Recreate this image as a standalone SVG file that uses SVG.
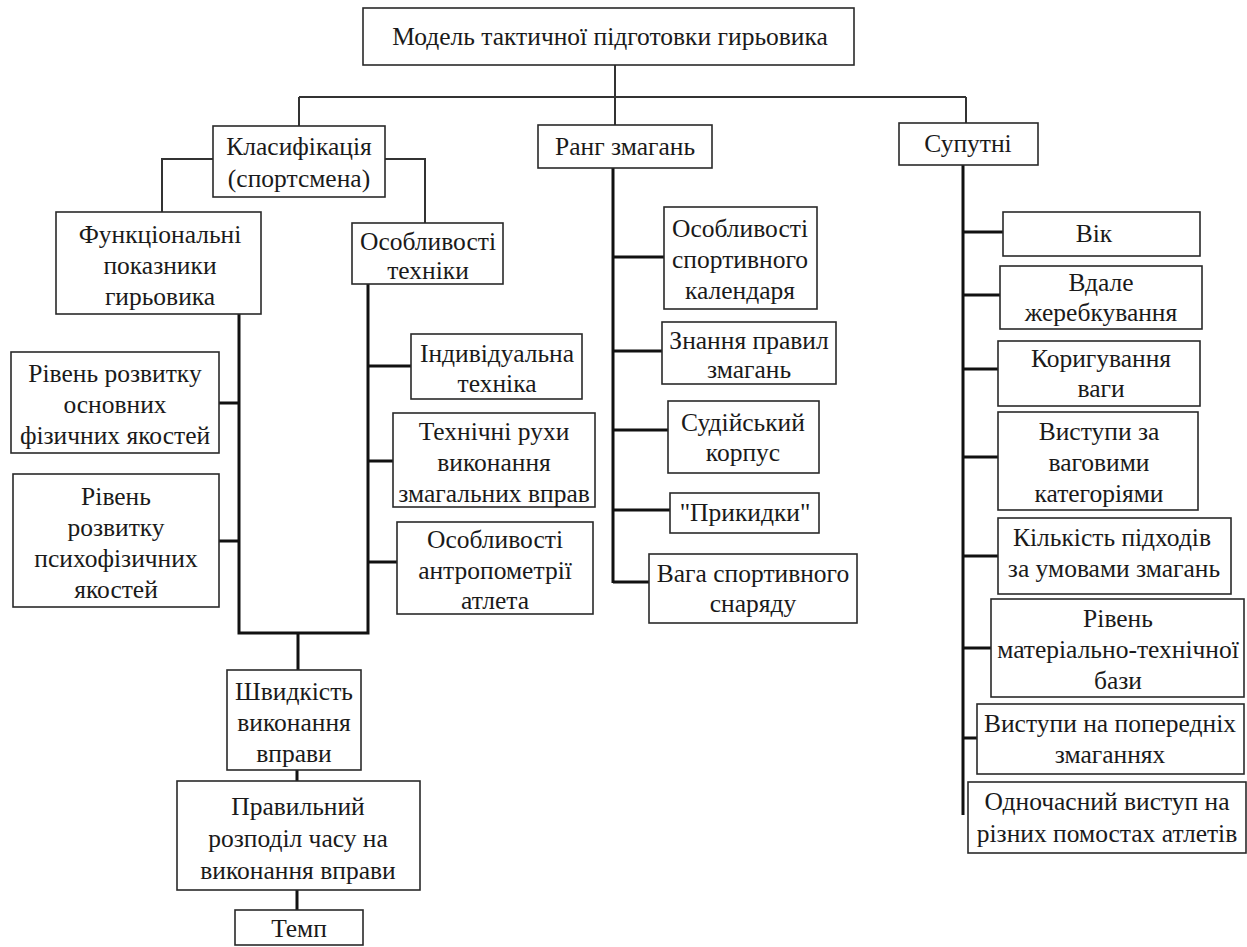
<svg xmlns="http://www.w3.org/2000/svg" width="1247" height="947" viewBox="0 0 1247 947">
<style>
.bg{fill:#ffffff}
.box{fill:#ffffff;stroke:#2a2a2a;stroke-width:1.6}
.t{font-family:'Liberation Serif','Times New Roman',serif;font-size:25.5px;fill:#1a1a1a;text-anchor:middle}
.thin{fill:none;stroke:#333333;stroke-width:2}
.thick{fill:none;stroke:#111111;stroke-width:3}
</style>
<rect class="bg" x="0" y="0" width="1247" height="947"/>
<g id="connectors">
<path class="thin" d="M615,65 V97 M299,97 H966 M299,97 V126 M615,97 V126 M966,97 V124"/>
<path class="thin" d="M213,159 H162 V212 M385,159 H425 V223"/>
<path class="thick" d="M613,168 V583 M613,257 H664 M613,351 H662 M613,430 H668 M613,510 H670 M613,582 H649"/>
<path class="thick" d="M963,164 V815 M963,232 H1003 M963,295 H1000 M963,369 H998 M963,457 H998 M963,556 H998 M963,648 H991 M963,738 H977"/>
<path class="thick" d="M239,314 V633 H368 V284 M219,403 H239 M219,541 H239 M368,366 H411 M368,461 H393 M368,562 H397"/>
<path class="thick" d="M298,633 V670 M297,770 V781 M297,890 V910"/>
</g>
<g id="title"><rect class="box" x="363" y="8" width="491" height="57"/><text class="t" x="610" y="45">Модель тактичної підготовки гирьовика</text></g>
<g id="klas"><rect class="box" x="213" y="126" width="172" height="71"/><text class="t" x="299" y="155">Класифікація</text><text class="t" x="299" y="187">(спортсмена)</text></g>
<g id="rang"><rect class="box" x="538" y="125" width="174" height="43"/><text class="t" x="625" y="155">Ранг змагань</text></g>
<g id="suputni"><rect class="box" x="899" y="123" width="139" height="42"/><text class="t" x="968" y="152">Супутні</text></g>
<g id="func"><rect class="box" x="56" y="212" width="205" height="102"/><text class="t" x="160" y="243">Функціональні</text><text class="t" x="160" y="274">показники</text><text class="t" x="160" y="305">гирьовика</text></g>
<g id="osobl-tekhn"><rect class="box" x="352" y="223" width="151" height="61"/><text class="t" x="428" y="250">Особливості</text><text class="t" x="428" y="279">техніки</text></g>
<g id="riven1"><rect class="box" x="11" y="352" width="208" height="101"/><text class="t" x="115" y="382">Рівень розвитку</text><text class="t" x="115" y="413">основних</text><text class="t" x="115" y="444">фізичних якостей</text></g>
<g id="riven2"><rect class="box" x="13" y="474" width="206" height="133"/><text class="t" x="116" y="505">Рівень</text><text class="t" x="116" y="536">розвитку</text><text class="t" x="116" y="567">психофізичних</text><text class="t" x="116" y="598">якостей</text></g>
<g id="indyv"><rect class="box" x="411" y="334" width="171" height="65"/><text class="t" x="497" y="362">Індивідуальна</text><text class="t" x="497" y="392">техніка</text></g>
<g id="tekhn-rukhy"><rect class="box" x="393" y="413" width="202" height="94"/><text class="t" x="494" y="440">Технічні рухи</text><text class="t" x="494" y="471">виконання</text><text class="t" x="494" y="502">змагальних вправ</text></g>
<g id="antrop"><rect class="box" x="397" y="522" width="196" height="92"/><text class="t" x="495" y="548">Особливості</text><text class="t" x="495" y="579">антропометрії</text><text class="t" x="495" y="609">атлета</text></g>
<g id="shvyd"><rect class="box" x="227" y="670" width="134" height="100"/><text class="t" x="294" y="700">Швидкість</text><text class="t" x="294" y="731">виконання</text><text class="t" x="294" y="762">вправи</text></g>
<g id="pravyl"><rect class="box" x="177" y="781" width="243" height="109"/><text class="t" x="298" y="815">Правильний</text><text class="t" x="298" y="847">розподіл часу на</text><text class="t" x="298" y="879">виконання вправи</text></g>
<g id="temp"><rect class="box" x="235" y="910" width="128" height="35"/><text class="t" x="299" y="937">Темп</text></g>
<g id="kalend"><rect class="box" x="664" y="207" width="153" height="102"/><text class="t" x="740" y="237">Особливості</text><text class="t" x="740" y="268">спортивного</text><text class="t" x="740" y="299">календаря</text></g>
<g id="znannya"><rect class="box" x="662" y="322" width="174" height="62"/><text class="t" x="749" y="349">Знання правил</text><text class="t" x="749" y="378">змагань</text></g>
<g id="suddi"><rect class="box" x="668" y="401" width="151" height="72"/><text class="t" x="743" y="431">Судійський</text><text class="t" x="743" y="461">корпус</text></g>
<g id="prykydky"><rect class="box" x="670" y="493" width="149" height="40"/><text class="t" x="745" y="521">"Прикидки"</text></g>
<g id="vaga"><rect class="box" x="649" y="554" width="208" height="69"/><text class="t" x="753" y="582">Вага спортивного</text><text class="t" x="753" y="612">снаряду</text></g>
<g id="vik"><rect class="box" x="1003" y="212" width="197" height="44"/><text class="t" x="1094" y="242">Вік</text></g>
<g id="vdale"><rect class="box" x="1000" y="266" width="202" height="63"/><text class="t" x="1101" y="291">Вдале</text><text class="t" x="1101" y="321">жеребкування</text></g>
<g id="koryg"><rect class="box" x="998" y="341" width="202" height="65"/><text class="t" x="1101" y="367">Коригування</text><text class="t" x="1101" y="397">ваги</text></g>
<g id="vystupy-vag"><rect class="box" x="998" y="412" width="200" height="98"/><text class="t" x="1099" y="440">Виступи за</text><text class="t" x="1099" y="471">ваговими</text><text class="t" x="1099" y="502">категоріями</text></g>
<g id="kilkist"><rect class="box" x="998" y="518" width="233" height="76"/><text class="t" x="1112" y="546">Кількість підходів</text><text class="t" x="1114" y="577">за умовами змагань</text></g>
<g id="riven-mat"><rect class="box" x="991" y="599" width="253" height="98"/><text class="t" x="1118" y="627">Рівень</text><text class="t" x="1118" y="658">матеріально-технічної</text><text class="t" x="1118" y="689">бази</text></g>
<g id="vystupy-pop"><rect class="box" x="977" y="704" width="267" height="70"/><text class="t" x="1110" y="732">Виступи на попередніх</text><text class="t" x="1110" y="763">змаганнях</text></g>
<g id="odnochas"><rect class="box" x="968" y="782" width="278" height="71"/><text class="t" x="1107" y="810">Одночасний виступ на</text><text class="t" x="1107" y="842">різних помостах атлетів</text></g>
</svg>
